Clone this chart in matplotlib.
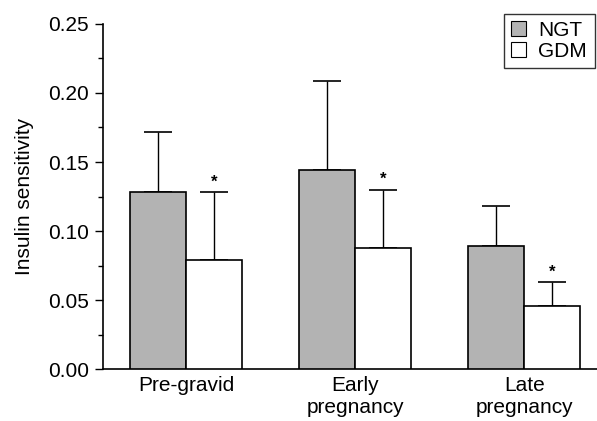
import matplotlib
matplotlib.use("Agg")
import matplotlib.pyplot as plt
import numpy as np
from matplotlib.patches import Patch

plt.rcParams['font.family'] = ['Liberation Sans', 'DejaVu Sans']

categories = ["Pre-gravid", "Early\npregnancy", "Late\npregnancy"]
ngt_mean = [0.128, 0.144, 0.089]
ngt_err = [0.044, 0.065, 0.029]
gdm_mean = [0.079, 0.088, 0.046]
gdm_err = [0.049, 0.042, 0.017]
series_names = ["NGT", "GDM"]
yticks = [0.00, 0.05, 0.10, 0.15, 0.20, 0.25]

FS = 15
fig = plt.figure(figsize=(5.97, 4.21), dpi=100)
ax = fig.add_axes([0.1725, 0.1235, 0.8275, 0.8195])

x = np.arange(len(categories))
w = 0.33
ax.bar(x - w/2, ngt_mean, width=w, color='#b3b3b3', edgecolor='black', linewidth=1.2, zorder=3)
ax.bar(x + w/2, gdm_mean, width=w, color='white', edgecolor='black', linewidth=1.2, zorder=3)
ax.errorbar(x - w/2, ngt_mean, yerr=[np.zeros(3), ngt_err], fmt='none', ecolor='black',
            elinewidth=1.0, capsize=10, capthick=1.2, zorder=2)
ax.errorbar(x + w/2, gdm_mean, yerr=[np.zeros(3), gdm_err], fmt='none', ecolor='black',
            elinewidth=1.0, capsize=10, capthick=1.2, zorder=2)
for xi, m, e in zip(x + w/2, gdm_mean, gdm_err):
    ax.text(xi, m + e + 0.002, "*", ha='center', va='bottom', fontsize=12, fontweight='bold')

ax.set_xlim(-0.49, 2.43)
ax.set_ylim(0, 0.25)
ax.set_yticks(yticks)
ax.set_yticklabels([f"{v:.2f}" for v in yticks], fontsize=FS)
ax.set_yticks(np.arange(0.025, 0.25, 0.05), minor=True)
ax.tick_params(axis='y', which='major', length=6, width=1, direction='out', pad=4)
ax.tick_params(axis='y', which='minor', length=3.5, width=1, direction='out')
ax.set_xticks(x)
ax.set_xticklabels(categories, fontsize=FS, linespacing=1.2)
ax.tick_params(axis='x', length=0, pad=5)
ax.set_ylabel("Insulin sensitivity", fontsize=FS, labelpad=10)
for s in ['top', 'right']:
    ax.spines[s].set_visible(False)
for s in ['left', 'bottom']:
    ax.spines[s].set_linewidth(1.2)

handles = [Patch(facecolor='#b3b3b3', edgecolor='black', linewidth=0.8),
           Patch(facecolor='white', edgecolor='black', linewidth=0.8)]
leg = ax.legend(handles, series_names, loc='upper right', bbox_to_anchor=(0.995, 1.03),
                fontsize=FS, frameon=True, fancybox=False, handlelength=0.7,
                handleheight=0.7, handletextpad=0.6, borderpad=0.35, labelspacing=0.1,
                borderaxespad=0)
leg.get_frame().set_edgecolor('black')
leg.get_frame().set_linewidth(1.0)

fig.savefig("out.png", dpi=100)
